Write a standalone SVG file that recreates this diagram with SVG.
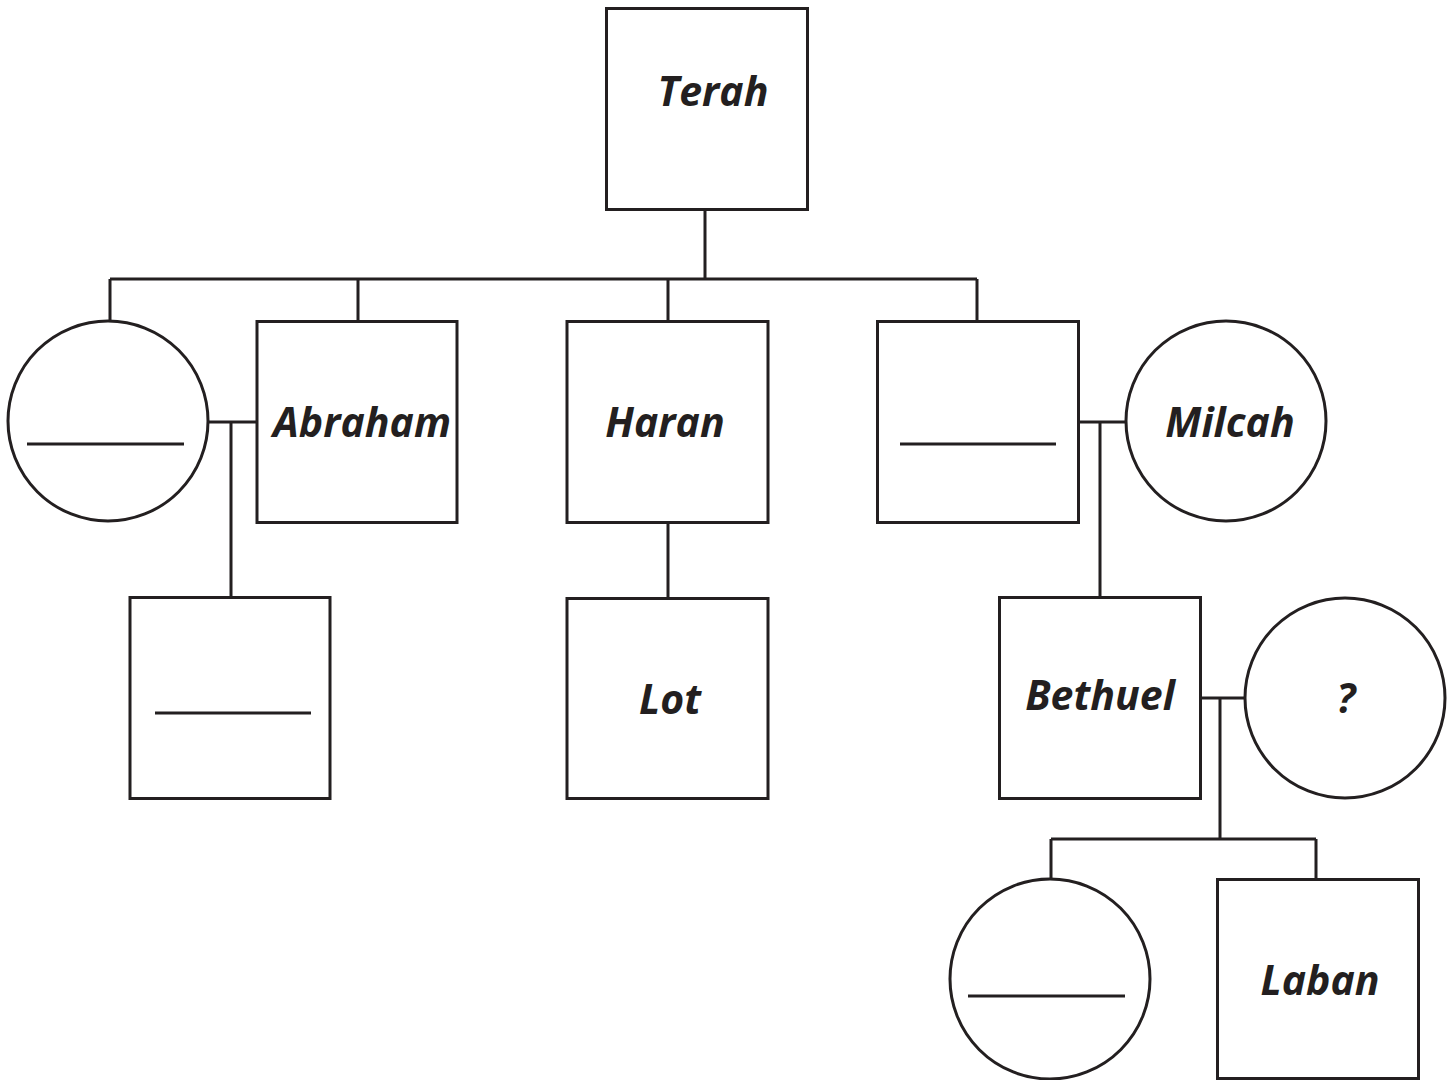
<svg xmlns="http://www.w3.org/2000/svg" width="1453" height="1080" viewBox="0 0 1453 1080">
<style>
.s{fill:#fff;stroke:#231f20;stroke-width:3}
.c{fill:none;stroke:#231f20;stroke-width:3}
.t{font-family:"Open Sans","Liberation Sans",sans-serif;font-weight:bold;font-style:italic;font-size:41px;fill:#231f20;text-anchor:middle}
</style>
<rect width="1453" height="1080" fill="#fff"/>
<g id="connectors" class="c">
<path d="M705 209V279M110 279H977M110 279V321M358 279V321M668 279V321M977 279V321"/>
<path d="M208 422H257M231 422V597"/>
<path d="M668 522V598"/>
<path d="M1078 422H1126M1100 422V597"/>
<path d="M1200 698H1245M1220 698V839M1051 839H1316M1051 839V879M1316 839V879"/>
</g>
<g id="terah"><rect class="s" x="606.5" y="8.5" width="201" height="201"/><text class="t" x="713" y="106">Terah</text></g>
<g id="wife1"><circle class="s" cx="108" cy="421" r="100"/><line class="c" x1="27" y1="444" x2="184" y2="444"/></g>
<g id="abraham"><rect class="s" x="257" y="321.5" width="200" height="201"/><text class="t" x="362" y="437">Abraham</text></g>
<g id="child1"><rect class="s" x="130" y="597.5" width="200" height="201"/><line class="c" x1="155" y1="713" x2="311" y2="713"/></g>
<g id="haran"><rect class="s" x="567" y="321.5" width="201" height="201"/><text class="t" x="665" y="437">Haran</text></g>
<g id="lot"><rect class="s" x="567" y="598.5" width="201" height="200"/><text class="t" x="670" y="714">Lot</text></g>
<g id="nahor"><rect class="s" x="877.5" y="321.5" width="201" height="201"/><line class="c" x1="900" y1="444" x2="1056" y2="444"/></g>
<g id="milcah"><circle class="s" cx="1226" cy="421" r="100"/><text class="t" x="1230" y="437">Milcah</text></g>
<g id="bethuel"><rect class="s" x="999.5" y="597.5" width="201" height="201"/><text class="t" x="1100" y="710">Bethuel</text></g>
<g id="wife2"><circle class="s" cx="1345" cy="698" r="100"/><text class="t" x="1346" y="713">?</text></g>
<g id="rebekah"><circle class="s" cx="1050" cy="979" r="100"/><line class="c" x1="968" y1="996" x2="1125" y2="996"/></g>
<g id="laban"><rect class="s" x="1217.5" y="879.5" width="201" height="199"/><text class="t" x="1320" y="995">Laban</text></g>
</svg>
